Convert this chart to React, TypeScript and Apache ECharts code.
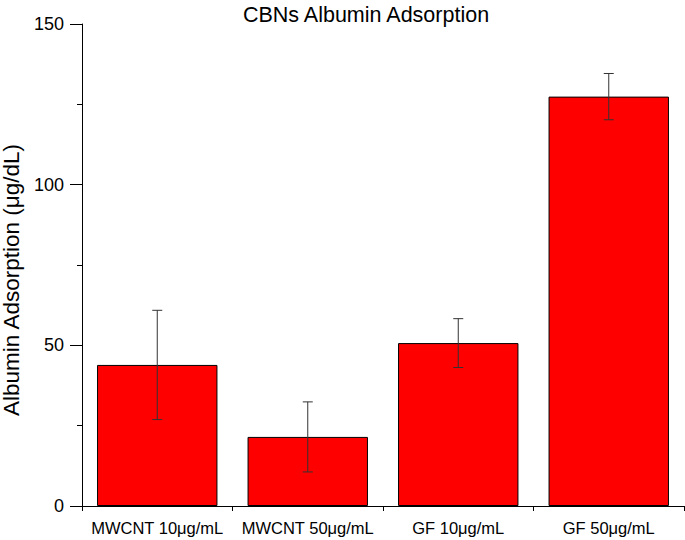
import React, { useEffect, useRef } from "react";
import * as echarts from "echarts";

const categories = ["MWCNT 10μg/mL", "MWCNT 50μg/mL", "GF 10μg/mL", "GF 50μg/mL"];
const values = [43.9, 21.5, 50.7, 127.4];
const errors = [17.0, 10.9, 7.6, 7.2];
const yTicks = { min: 0, max: 150, interval: 50 };

const FONT = "Liberation Sans, Arial, sans-serif";

export default function App() {
  const ref = useRef<HTMLDivElement>(null);
  useEffect(() => {
    if (!ref.current) return;
    const chart = echarts.init(ref.current, undefined, { renderer: "svg" });
    const errData = values.map((v, i) => [i, v - errors[i], v + errors[i]]);
    chart.setOption({
      animation: false,
      backgroundColor: "#ffffff",
      textStyle: { fontFamily: FONT },
      title: {
        text: "CBNs Albumin Adsorption",
        left: 361,
        textAlign: "center",
        top: -1,
        textStyle: { fontFamily: FONT, fontSize: 21.5, fontWeight: "normal", color: "#000" },
      },
      grid: { left: 82, right: 1, top: 24, bottom: 34, containLabel: false, outerBoundsMode: "none" },
      xAxis: [
        {
          type: "category",
          data: categories,
          axisLine: { lineStyle: { color: "#000", width: 1 } },
          axisTick: { alignWithLabel: true, length: 8, lineStyle: { color: "#000" } },
          axisLabel: { color: "#000", fontSize: 16.5, margin: 13, fontFamily: FONT, interval: 0 },
        },
        {
          type: "category",
          data: categories,
          position: "bottom",
          axisLine: { show: false },
          axisTick: { show: true, length: 5, interval: 0, lineStyle: { color: "#000" } },
          axisLabel: { show: false },
        },
      ],
      yAxis: {
        type: "value",
        min: yTicks.min,
        max: yTicks.max,
        interval: yTicks.interval,
        name: "Albumin Adsorption (μg/dL)",
        nameLocation: "middle",
        nameGap: 56,
        nameTextStyle: { fontFamily: FONT, fontSize: 22.5, color: "#000", padding: [0, 30, 0, 0] },
        axisLine: { show: true, lineStyle: { color: "#000", width: 1 } },
        axisTick: { show: true, length: 12, lineStyle: { color: "#000" } },
        minorTick: { show: true, splitNumber: 2, length: 5, lineStyle: { color: "#000" } },
        splitLine: { show: false },
        axisLabel: { color: "#000", fontSize: 18, margin: 18, fontFamily: FONT },
      },
      series: [
        {
          type: "bar",
          data: values,
          barWidth: "80%",
          itemStyle: { color: "#ff0000", borderColor: "#000", borderWidth: 1 },
        },
        {
          type: "custom",
          data: errData,
          z: 10,
          renderItem: (params: any, api: any) => {
            const idx = api.value(0);
            const lo = api.coord([idx, api.value(1)]);
            const hi = api.coord([idx, api.value(2)]);
            const hw = 5;
            const style = { stroke: "#333", lineWidth: 1 };
            return {
              type: "group",
              children: [
                { type: "line", shape: { x1: hi[0], y1: hi[1], x2: lo[0], y2: lo[1] }, style },
                { type: "line", shape: { x1: hi[0] - hw, y1: hi[1], x2: hi[0] + hw, y2: hi[1] }, style },
                { type: "line", shape: { x1: lo[0] - hw, y1: lo[1], x2: lo[0] + hw, y2: lo[1] }, style },
              ],
            };
          },
        },
      ],
    });
    return () => chart.dispose();
  }, []);
  return (
    <div
      ref={ref}
      style={{ position: "fixed", left: 0, top: 0, width: 685, height: 540, background: "#fff" }}
    />
  );
}
